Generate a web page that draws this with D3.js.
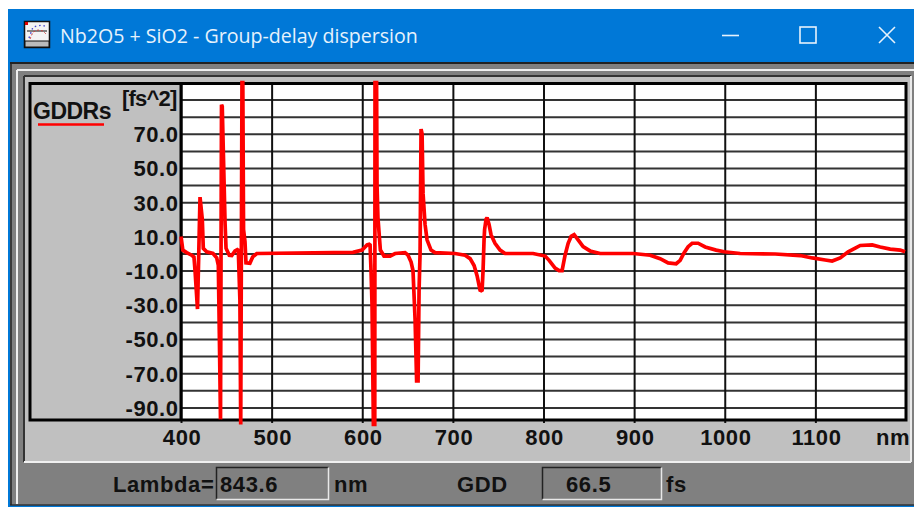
<!DOCTYPE html>
<html><head><meta charset="utf-8">
<script src="https://cdn.jsdelivr.net/npm/d3@7"></script>
<style>html,body{margin:0;padding:0;background:#fff;overflow:hidden}svg{display:block}
.b{font-family:"Liberation Sans",Arial,sans-serif;font-weight:700;fill:#111;font-size:22px;letter-spacing:0.6px}
</style></head><body><svg id="c" width="914" height="507"></svg>
<script>
const titleText = "Nb2O5 + SiO2 - Group-delay dispersion";
const seriesName = "GDDRs";
const yUnit = "[fs^2]";
const xUnit = "nm";
const xTicks = [400,500,600,700,800,900,1000,1100];
const yLabelTicks = [70,50,30,10,-10,-30,-50,-70,-90];
const yGridTicks = [90,80,70,60,50,40,30,20,10,0,-10,-20,-30,-40,-50,-60,-70,-80,-90];
const wavelengths = [400,402,406.3,411.8,414.3,415.5,418.2,421,423.5,424.6,428.4,435.3,439.4,441.2,442.3,443.6,444.7,445.5,448.6,449.7,453.3,456,459.6,463.2,465,465.9,467.3,468.2,469,470.6,471.7,476,479.1,483.6,589.8,599.8,605.3,608.6,609.7,610.8,612.3,613.8,614.1,615.8,616.3,617.3,620,624,630.7,636.2,647.2,650.5,653.9,656,658.3,660,661.6,662.7,663.8,664.9,666,667.1,669.3,671.5,675.9,680.3,702.4,713.5,719,723.4,726.7,730,732.2,733.3,734.4,735,736.6,737.7,739.9,742.1,746.5,752.1,757.6,788.5,801.8,806.2,812.8,817.2,820.5,823.8,827.2,830.5,833.8,838.2,843.7,851.4,862.5,899,917.7,928.7,937.5,946.4,950.8,955.2,959.6,964,970.6,978.4,990.5,999.3,1017,1055.6,1083.2,1096.5,1110.8,1118.5,1127.4,1136.2,1144,1149.5,1162.7,1171.5,1182.6,1193.6,1199];
const gddValues = [10,2,0.5,-1,-2,-10,-32.5,33,20,3,1,0,-2.5,-7,-46.5,-97,87,86,18,3,-1,-1.2,1.5,2.5,-27,-100,100,100,14,7,-5.5,-5.7,-2,0,0.7,2,5,5.5,-10,-30,-100,-100,100,100,40,21,2,-1.5,-1.5,0,0.5,-1,-5,-10,-38.5,-74.5,-74.5,-21,0,72.8,70,35,17,8,2,0.5,0,-1,-3,-7,-13,-21.5,-22,-10,8,14,20,21,17,11,6,2,0,0,-1.5,-4,-8.5,-10,-10,-1,6,10,11,8,4,1.5,0,0,-1,-3,-5.5,-6,-4,0.5,4,6,6,3.8,2,1,0,-0.3,-1.2,-2.6,-3.8,-4.4,-2.6,1,3.2,4.7,5,3.8,2.6,2,1];
const lambdaReadout = "843.6";
const gddReadout = "66.5";
const readoutLabels = ["Lambda=", "nm", "GDD", "fs"];

const svg = d3.select("#c");
const rect = (x,y,w,h,f,s,sw) => svg.append("rect").attr("x",x).attr("y",y).attr("width",w).attr("height",h).attr("fill",f||"none").attr("stroke",s||"none").attr("stroke-width",sw||0);
const text = (x,y,t,a,cls) => svg.append("text").attr("x",x).attr("y",y).attr("text-anchor",a||"start").attr("class",cls||"b").text(t);
const seg = (x1,y1,x2,y2,c,w) => svg.append("line").attr("x1",x1).attr("y1",y1).attr("x2",x2).attr("y2",y2).attr("stroke",c).attr("stroke-width",w);

// window chrome
rect(8,9,906,498,"#0078d7");
rect(10,62,904,443,"#808080");
seg(10,63,914,63,"#222",2);
seg(10,505,914,505,"#333",1.5);
seg(11,63,11,505,"#222",1.5);
seg(17,70,914,70,"#f0f0f0",2);
seg(17,70,17,504,"#f0f0f0",2);
rect(25,77,886,385,"#c0c0c0");
seg(24,76,911,76,"#333",2);
seg(24,76,24,462,"#333",2);
seg(24,462,911,462,"#f0f0f0",2);
seg(911,76,911,462,"#eaeaea",2);

// title bar
svg.append("text").attr("x",60).attr("y",43).attr("fill","#e6f2fc")
  .style("font-family","'Open Sans',sans-serif").style("font-size","19.6px").text(titleText);
const ic = svg.append("g");
ic.append("rect").attr("x",24.5).attr("y",21.5).attr("width",25).attr("height",26).attr("fill","#f4f4f4").attr("stroke","#111").attr("stroke-width",1.5);
ic.append("rect").attr("x",25).attr("y",41).attr("width",24).attr("height",6).attr("fill","#bbb").attr("stroke","#111").attr("stroke-width",1);
ic.append("rect").attr("x",25).attr("y",22).attr("width",3).attr("height",3).attr("fill","#d00");
ic.append("path").attr("d","M27 31H47").attr("stroke","#111").attr("stroke-width",1);
ic.append("path").attr("d","M30 39L33 32L38 30L43 31L47 35").attr("fill","none").attr("stroke","#c44").attr("stroke-width",1).attr("stroke-dasharray","2 2");
ic.append("path").attr("d","M29 38L33 27L42 25L47 27").attr("fill","none").attr("stroke","#44c").attr("stroke-width",1.4).attr("stroke-dasharray","1.5 3");
svg.append("path").attr("d","M722 35.5H739").attr("stroke","#e6f2fc").attr("stroke-width",1.6).attr("fill","none");
svg.append("rect").attr("x",800).attr("y",27).attr("width",16).attr("height",16).attr("stroke","#e6f2fc").attr("stroke-width",1.6).attr("fill","none");
svg.append("path").attr("d","M879 27L895 43M895 27L879 43").attr("stroke","#e6f2fc").attr("stroke-width",1.6).attr("fill","none");

// scales
const x = d3.scaleLinear().domain([400,1200]).range([181,906]);
const y = d3.scaleLinear().domain([-100,100]).range([424.5,82.5]);
const plotTop = 84, plotBottom = 420;

// plot
rect(181,plotTop,725,plotBottom-plotTop,"#fff");

const gridY = svg.append("g").attr("transform","translate(181,0)")
  .call(d3.axisLeft(y).tickValues(yGridTicks).tickSize(-725).tickFormat(""));
gridY.select(".domain").remove();
gridY.selectAll("line").attr("stroke","#333").attr("stroke-width",2);

const gridX = svg.append("g").attr("transform",`translate(0,${plotTop})`)
  .call(d3.axisBottom(x).tickValues(xTicks).tickSize(plotBottom-plotTop+3).tickFormat(""));
gridX.select(".domain").remove();
gridX.selectAll("line").attr("stroke","#111").attr("stroke-width",2);

// frame
rect(30,83.5,876,336.5,"none","#000",3);
seg(181,83,181,421,"#000",3);

// axis labels
const labY = svg.append("g").attr("transform","translate(178,0)")
  .call(d3.axisLeft(y).tickValues(yLabelTicks).tickSize(0).tickPadding(0).tickFormat(d => d.toFixed(1)));
labY.select(".domain").remove();
labY.selectAll("text").attr("class","b").attr("dy","0.36em").attr("dx","0.6px");
const labX = svg.append("g").attr("transform","translate(0,424)")
  .call(d3.axisBottom(x).tickValues(xTicks).tickSize(0).tickPadding(0).tickFormat(d3.format("d")));
labX.select(".domain").remove();
labX.selectAll("text").attr("class","b").attr("dy","0").attr("y",21).attr("dx","0.6px");

text(122,106,yUnit).style("letter-spacing","-0.8px");
text(33,119,seriesName).style("font-size","23px").style("letter-spacing","-0.5px");
seg(38,124.5,104,124.5,"#f00",2.5);
text(876,445,xUnit);

// series
const line = d3.line().x((d,i)=>x(wavelengths[i])).y(d=>y(d));
svg.append("path").datum(gddValues).attr("d",line).attr("fill","none")
  .attr("stroke","#f00").attr("stroke-width",3.7).attr("stroke-linejoin","miter").attr("stroke-miterlimit",1.5);

// status bar
const box = (x0,y0,w,h) => {
  svg.append("path").attr("d",`M${x0} ${y0+h}V${y0}H${x0+w}`).attr("fill","none").attr("stroke","#222").attr("stroke-width",1.5);
  svg.append("path").attr("d",`M${x0+w} ${y0}V${y0+h}H${x0}`).attr("fill","none").attr("stroke","#e8e8e8").attr("stroke-width",1.5);
};
box(216.5,467.5,112,32);
box(542.5,467.5,119,32);
text(113,492,readoutLabels[0]);
text(220,492,lambdaReadout);
text(334,492,readoutLabels[1]);
text(457,492,readoutLabels[2]);
text(566,492,gddReadout);
text(666,492,readoutLabels[3]);
</script></body></html>
